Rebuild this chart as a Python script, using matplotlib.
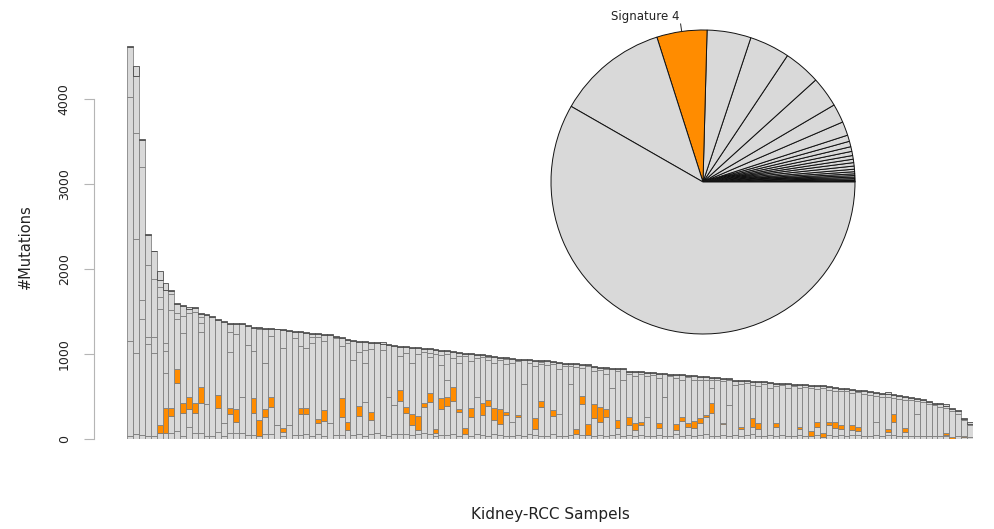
import numpy as np
import matplotlib
matplotlib.use("Agg")
import matplotlib.pyplot as plt

# ---------------- data ----------------
total = [4620, 4388, 3526, 2412, 2216, 1980, 1839, 1753, 1596, 1573,
         1549, 1549, 1478, 1470, 1451, 1410, 1392, 1362, 1361, 1360,
         1341, 1321, 1321, 1310, 1302, 1300, 1294, 1282, 1274, 1270,
         1255, 1243, 1243, 1231, 1230, 1212, 1204, 1173, 1165, 1153,
         1152, 1145, 1144, 1137, 1114, 1106, 1098, 1097, 1086, 1085,
         1074, 1068, 1060, 1052, 1045, 1038, 1022, 1016, 1010, 1004,
         998, 990, 975, 968, 960, 952, 945, 940, 936, 932,
         928, 924, 920, 905, 900, 895, 890, 885, 880, 856,
         850, 845, 840, 836, 834, 805, 800, 795, 790, 783,
         778, 773, 768, 764, 760, 755, 748, 742, 737, 732,
         727, 722, 716, 700, 696, 692, 688, 684, 679, 674,
         664, 660, 656, 652, 648, 645, 640, 636, 632, 628,
         612, 605, 598, 590, 582, 575, 565, 555, 545, 549,
         529, 518, 510, 498, 486, 470, 451, 427, 420, 408,
         361, 341, 251, 196]

# bottom signature layer (below Signature 4)
sig1 = [40, 60, 50, 40, 40, 67, 67, 67, 94, 35,
        145, 67, 67, 35, 40, 80, 30, 70, 70, 66,
        50, 45, 35, 60, 60, 165, 40, 165, 50, 50,
        60, 40, 60, 40, 184, 45, 50, 106, 50, 60,
        40, 60, 66, 50, 40, 60, 60, 60, 50, 60,
        70, 60, 40, 50, 50, 60, 40, 59, 40, 60,
        50, 40, 60, 50, 40, 35, 50, 40, 60, 50,
        40, 35, 60, 30, 40, 50, 59, 50, 47, 40,
        50, 40, 50, 60, 40, 50, 40, 50, 35, 40,
        50, 40, 35, 60, 40, 50, 40, 50, 60, 40,
        35, 50, 40, 45, 40, 50, 60, 40, 35, 50,
        40, 50, 40, 35, 50, 40, 35, 50, 24, 50,
        40, 50, 40, 50, 45, 40, 35, 50, 40, 50,
        50, 40, 40, 35, 40, 30, 40, 35, 30, 30,
        0, 30, 24, 20]

# Signature 4 (orange): bottom of the segment and its size
sig4_bottom = [0, 0, 0, 0, 0, 67, 67, 274, 655, 310,
               349, 302, 420, 0, 0, 361, 0, 294, 204, 0,
               0, 310, 35, 255, 380, 0, 86, 0, 0, 294,
               294, 0, 184, 215, 0, 0, 263, 106, 0, 271,
               0, 224, 0, 0, 0, 0, 451, 302, 161, 106,
               376, 439, 75, 353, 388, 451, 318, 59, 259, 0,
               282, 388, 224, 176, 282, 0, 259, 0, 0, 114,
               376, 0, 271, 0, 0, 0, 59, 412, 47, 247,
               200, 259, 0, 129, 0, 165, 106, 165, 0, 0,
               129, 0, 0, 106, 212, 141, 129, 188, 259, 306,
               0, 176, 0, 0, 118, 0, 141, 118, 0, 0,
               141, 0, 0, 0, 118, 0, 35, 141, 24, 165,
               129, 118, 0, 106, 94, 0, 0, 0, 0, 82,
               200, 0, 82, 0, 0, 0, 0, 0, 0, 47,
               0, 0, 24, 0]
sig4 = [0, 0, 0, 0, 0, 98, 294, 87, 165, 110,
        149, 125, 196, 0, 0, 157, 0, 74, 149, 0,
        0, 169, 189, 98, 118, 0, 47, 0, 0, 74,
        74, 0, 55, 126, 0, 0, 216, 98, 0, 121,
        0, 90, 0, 0, 0, 0, 125, 78, 129, 165,
        44, 98, 39, 129, 106, 165, 35, 70, 106, 0,
        142, 71, 141, 177, 36, 0, 23, 0, 0, 133,
        71, 0, 70, 0, 0, 0, 55, 94, 129, 165,
        176, 94, 0, 95, 0, 94, 82, 35, 0, 0,
        59, 0, 0, 70, 47, 47, 83, 59, 23, 118,
        0, 12, 0, 0, 23, 0, 106, 70, 0, 0,
        47, 0, 0, 0, 23, 0, 59, 59, 47, 35,
        71, 47, 0, 59, 47, 0, 0, 0, 0, 36,
        94, 0, 47, 0, 0, 0, 0, 0, 0, 24,
        24, 0, 11, 0]

# cumulative heights of further signature boundaries above Signature 4 (0 = none)
cut1 = [1153, 1008, 1408, 1117, 1008, 1525, 772, 1518, 1408, 1243,
        1478, 1498, 1263, 412, 0, 0, 184, 1027, 1231, 498,
        1106, 1035, 1290, 890, 1212, 0, 1067, 0, 1184, 1094,
        1067, 1125, 1204, 1153, 0, 1184, 1100, 1125, 929, 1027,
        439, 1060, 0, 1047, 498, 400, 976, 1010, 890, 1000,
        1020, 960, 1000, 870, 700, 950, 900, 980, 920, 500,
        960, 930, 900, 930, 880, 200, 920, 650, 890, 860,
        880, 870, 880, 300, 860, 650, 850, 840, 860, 800,
        810, 760, 600, 800, 700, 770, 740, 760, 260, 750,
        720, 500, 740, 720, 700, 730, 690, 700, 700, 600,
        690, 680, 400, 640, 650, 660, 640, 620, 650, 600,
        620, 640, 600, 620, 600, 610, 600, 590, 600, 580,
        570, 560, 560, 540, 550, 530, 520, 200, 500, 500,
        480, 470, 460, 460, 300, 430, 410, 400, 380, 370,
        330, 300, 220, 170]
cut2 = [4027, 2349, 1635, 1196, 1196, 1674, 1039, 1702, 1478, 1447,
        0, 0, 1361, 0, 0, 0, 0, 1263, 0, 0,
        0, 0, 0, 0, 0, 0, 0, 0, 0, 0,
        0, 1204, 0, 0, 0, 0, 0, 0, 0, 0,
        890, 0, 0, 0, 0, 0, 0, 0, 0, 0,
        0, 1010, 0, 990, 1000, 0, 980, 0, 0, 950,
        0, 960, 0, 0, 940, 900, 0, 0, 0, 0,
        910, 0, 0, 820, 0, 860, 0, 0, 0, 0,
        0, 820, 0, 0, 0, 0, 0, 0, 740, 0,
        0, 0, 0, 0, 0, 0, 0, 0, 0, 700,
        0, 0, 690, 0, 0, 0, 0, 0, 0, 0,
        0, 0, 0, 0, 0, 0, 0, 0, 0, 0,
        0, 0, 0, 0, 0, 0, 0, 510, 0, 0,
        0, 0, 0, 0, 450, 0, 0, 0, 0, 0,
        0, 0, 0, 0]
cut3 = ([0, 3596, 3196, 2047, 1878, 1792, 1125, 0, 0, 0, 0, 0, 1430]
        + [0] * 27 + [1047] + [0] * 103)
# thin signatures at the top of each bar
top_layer = [8, 117, 10, 10, 10, 109, 86, 12, 10, 10,
             14, 12, 10, 10, 10, 12, 20, 12, 10, 10,
             10, 12, 10, 12, 10, 10, 12, 15, 10, 12,
             10, 10, 10, 12, 12, 10, 15, 12, 15, 12,
             10, 12, 10, 15, 10, 10, 12, 12, 10, 12,
             12, 12, 15, 12, 12, 12, 15, 12, 12, 12,
             15, 12, 12, 10, 12, 12, 15, 12, 12, 12,
             15, 12, 12, 12, 12, 15, 12, 12, 10, 12,
             12, 12, 12, 15, 10, 12, 12, 12, 12, 12,
             12, 12, 12, 12, 12, 12, 12, 12, 12, 12,
             12, 12, 12, 12, 12, 12, 12, 12, 12, 12,
             12, 12, 12, 12, 12, 12, 12, 12, 12, 12,
             12, 12, 12, 12, 12, 12, 12, 12, 12, 15,
             12, 12, 12, 12, 12, 12, 12, 12, 12, 15,
             12, 15, 12, 15]

# pie: overall share of each signature (ascending, drawn counter-clockwise from 0 deg)
pie_values = [0.05, 0.1, 0.15, 0.2, 0.3, 0.5, 0.55, 0.6, 0.65, 0.8,
              0.95, 1.2, 1.3, 1.3, 1.4, 1.6, 1.8, 2.1, 2.4, 5.3,
              7.2, 11.7, 14.1, 15.4, 16.8, 19.2, 42.5, 209.8]
pie_labels = [""] * 25 + ["Signature 4"] + ["", ""]
highlight = "Signature 4"

for arr in (sig1, sig4_bottom, sig4, cut1, cut2, cut3, top_layer):
    assert len(arr) == len(total), len(arr)

# ---------------- styling ----------------
GRAY = "#d9d9d9"
ORANGE = "#ff8c00"
EDGE = "#7a7a7a"
TOP_EDGE = "#3c3c3c"

W, H = 995, 529
fig = plt.figure(figsize=(W / 100, H / 100), dpi=100)

# bar axes: x 127..973 px, y=0 at 439 px, 0.085 px per mutation
y0_px, ppu = 439.0, 0.085
ymax = 4700
top_px = y0_px - ymax * ppu
ax = fig.add_axes([127.3 / W, (H - y0_px) / H, 845.4 / W, (y0_px - top_px) / H])

n = len(total)
x = np.arange(n)
T = np.array(total, float)
h4 = np.array(sig4, float)
lo4 = np.where(h4 > 0, np.array(sig4_bottom, float), np.array(sig1, float))
b1 = np.minimum(np.array(sig1, float), lo4)
top4 = lo4 + h4
c1 = np.maximum(np.array(cut1, float), top4)
c2 = np.maximum(np.array(cut2, float), c1)
c3 = np.maximum(np.array(cut3, float), c2)
tl = np.maximum(T - np.array(top_layer, float), c3)

bounds = [np.zeros(n), b1, lo4, top4, c1, c2, c3, tl, T]
layer_colors = [GRAY, GRAY, ORANGE, GRAY, GRAY, GRAY, GRAY, GRAY]
for k in range(len(bounds) - 1):
    edge = TOP_EDGE if k == len(bounds) - 2 else EDGE
    ax.bar(x, bounds[k + 1] - bounds[k], bottom=bounds[k], width=1.0,
           align="edge", color=layer_colors[k], edgecolor=edge, linewidth=0.55)

ax.set_xlim(0, n)
ax.set_ylim(0, ymax)
for s in ("top", "right", "bottom"):
    ax.spines[s].set_visible(False)
ax.set_xticks([])
ax.spines["left"].set_position(("outward", 33 * 0.72))
ax.spines["left"].set_bounds(0, 4000)
ax.spines["left"].set_color("#b5b5b5")
ax.spines["left"].set_linewidth(0.8)
ax.set_yticks([0, 1000, 2000, 3000, 4000])
ax.tick_params(axis="y", length=7, width=0.8, color="#b5b5b5", pad=10,
               labelsize=9, labelcolor="#222222")
for lab in ax.get_yticklabels():
    lab.set_rotation(90)
    lab.set_va("center")

fig.text(25 / W, 1 - 247 / H, "#Mutations", rotation=90, ha="center",
         va="center", fontsize=10.5, color="#222222")
fig.text(550 / W, 1 - 515 / H, "Kidney-RCC Sampels", ha="center",
         va="center", fontsize=11, color="#222222")

# pie inset: centre (703,182) px, radius 152 px
cx, cy, r = 703.0, 182.0, 152.0
axp = fig.add_axes([(cx - r) / W, (H - cy - r) / H, 2 * r / W, 2 * r / H])
pie_colors = [ORANGE if lab == highlight else GRAY for lab in pie_labels]
wedges, _ = axp.pie(pie_values, colors=pie_colors, startangle=0,
                    counterclock=True, radius=1.0,
                    wedgeprops=dict(edgecolor="#111111", linewidth=0.7))
for w in wedges:
    w.set_clip_on(False)
axp.set_xlim(-1, 1)
axp.set_ylim(-1, 1)
axp.set_aspect("equal")
axp.axis("off")
for w, lab in zip(wedges, pie_labels):
    if lab:
        th = np.deg2rad((w.theta1 + w.theta2) / 2)
        axp.plot([np.cos(th), 1.05 * np.cos(th)], [np.sin(th), 1.05 * np.sin(th)],
                 color="#222222", lw=0.7, clip_on=False)
        axp.text(1.1 * np.cos(th), 1.1 * np.sin(th), lab,
                 ha="right" if np.cos(th) < 0 else "left", va="center",
                 fontsize=8.5, color="#222222", clip_on=False)

fig.savefig("out.png", dpi=100)
